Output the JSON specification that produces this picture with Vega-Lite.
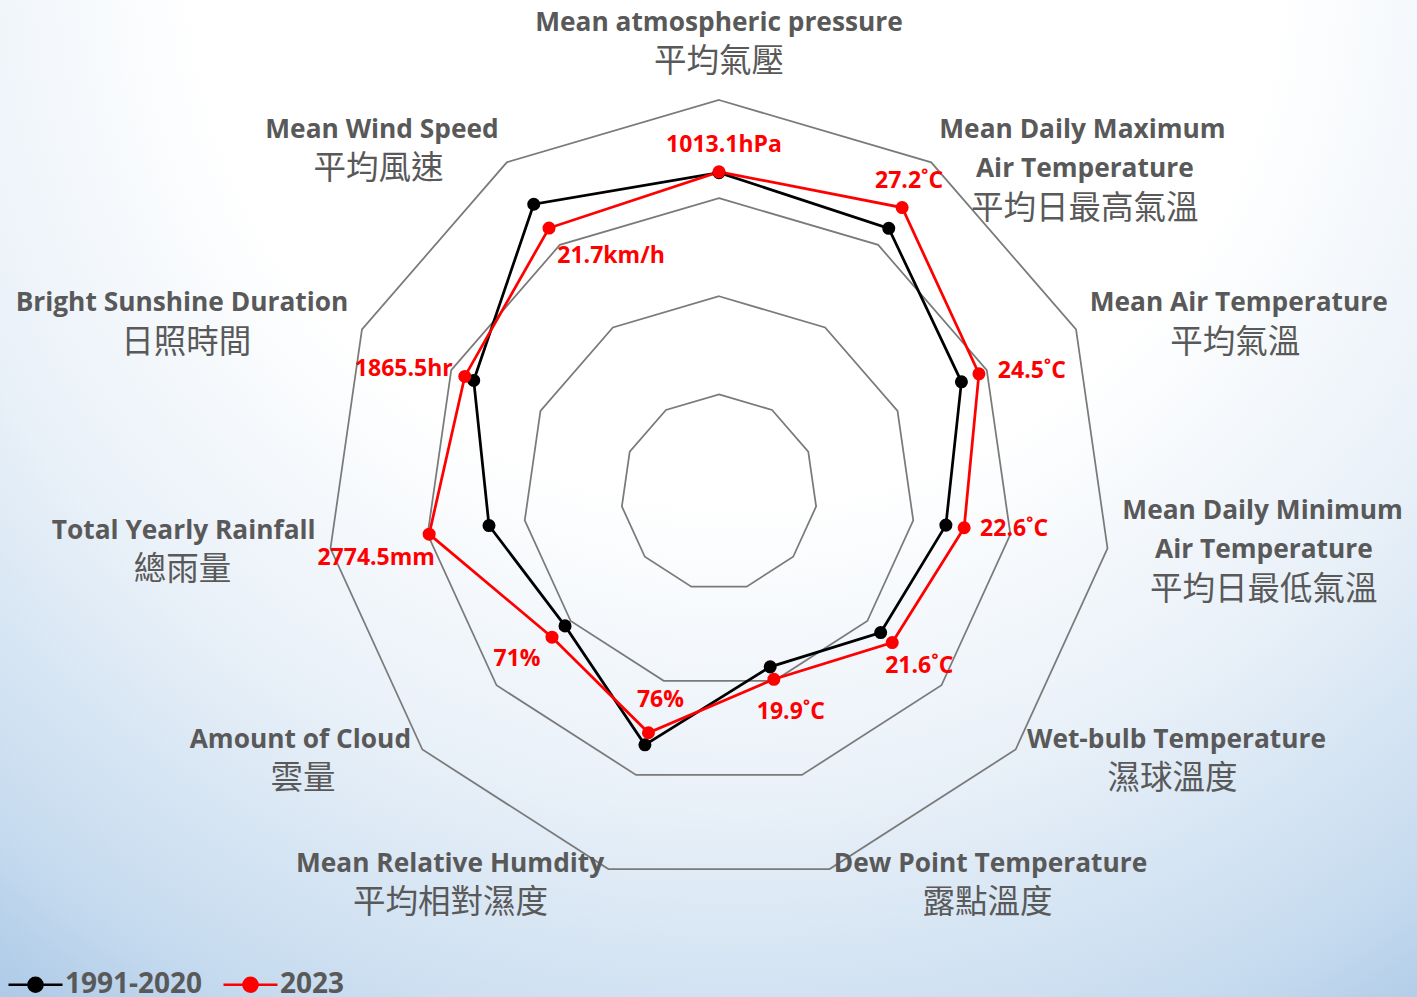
{
  "$schema": "https://vega.github.io/schema/vega-lite/v6.json",
  "width": 1417,
  "height": 997,
  "padding": 0,
  "autosize": {"type": "none"},
  "background": "#ffffff",
  "config": {
    "view": {
      "stroke": null,
      "fill": {
        "gradient": "radial",
        "x1": 0.52, "y1": 0.12, "r1": 0,
        "x2": 0.52, "y2": 0.12, "r2": 1.0,
        "stops": [
          {"offset": 0, "color": "#ffffff"},
          {"offset": 0.38, "color": "#ffffff"},
          {"offset": 0.6, "color": "#e8f0f8"},
          {"offset": 0.8, "color": "#c6dbef"},
          {"offset": 1, "color": "#93b8de"}
        ]
      }
    }
  },
  "datasets": {
    "rings": [
      {"ring": 1, "k": 0}, {"ring": 1, "k": 1}, {"ring": 1, "k": 2}, {"ring": 1, "k": 3}, {"ring": 1, "k": 4}, {"ring": 1, "k": 5}, {"ring": 1, "k": 6}, {"ring": 1, "k": 7}, {"ring": 1, "k": 8}, {"ring": 1, "k": 9}, {"ring": 1, "k": 10},
      {"ring": 2, "k": 0}, {"ring": 2, "k": 1}, {"ring": 2, "k": 2}, {"ring": 2, "k": 3}, {"ring": 2, "k": 4}, {"ring": 2, "k": 5}, {"ring": 2, "k": 6}, {"ring": 2, "k": 7}, {"ring": 2, "k": 8}, {"ring": 2, "k": 9}, {"ring": 2, "k": 10},
      {"ring": 3, "k": 0}, {"ring": 3, "k": 1}, {"ring": 3, "k": 2}, {"ring": 3, "k": 3}, {"ring": 3, "k": 4}, {"ring": 3, "k": 5}, {"ring": 3, "k": 6}, {"ring": 3, "k": 7}, {"ring": 3, "k": 8}, {"ring": 3, "k": 9}, {"ring": 3, "k": 10},
      {"ring": 4, "k": 0}, {"ring": 4, "k": 1}, {"ring": 4, "k": 2}, {"ring": 4, "k": 3}, {"ring": 4, "k": 4}, {"ring": 4, "k": 5}, {"ring": 4, "k": 6}, {"ring": 4, "k": 7}, {"ring": 4, "k": 8}, {"ring": 4, "k": 9}, {"ring": 4, "k": 10}
    ],
    "axes": [
      {"k": 0, "en1": "Mean atmospheric pressure", "en2": "", "zh": "平均氣壓"},
      {"k": 1, "en1": "Mean Daily Maximum", "en2": "Air Temperature", "zh": "平均日最高氣溫"},
      {"k": 2, "en1": "Mean Air Temperature", "en2": "", "zh": "平均氣溫"},
      {"k": 3, "en1": "Mean Daily Minimum", "en2": "Air Temperature", "zh": "平均日最低氣溫"},
      {"k": 4, "en1": "Wet-bulb Temperature", "en2": "", "zh": "濕球溫度"},
      {"k": 5, "en1": "Dew Point Temperature", "en2": "", "zh": "露點溫度"},
      {"k": 6, "en1": "Mean Relative Humdity", "en2": "", "zh": "平均相對濕度"},
      {"k": 7, "en1": "Amount of Cloud", "en2": "", "zh": "雲量"},
      {"k": 8, "en1": "Total Yearly Rainfall", "en2": "", "zh": "總雨量"},
      {"k": 9, "en1": "Bright Sunshine Duration", "en2": "", "zh": "日照時間"},
      {"k": 10, "en1": "Mean Wind Speed", "en2": "", "zh": "平均風速"}
    ],
    "series": [
      {"series": "1991-2020", "k": 0, "r": 0.815, "label": ""},
      {"series": "1991-2020", "k": 1, "r": 0.800, "label": ""},
      {"series": "1991-2020", "k": 2, "r": 0.679, "label": ""},
      {"series": "1991-2020", "k": 3, "r": 0.584, "label": ""},
      {"series": "1991-2020", "k": 4, "r": 0.545, "label": ""},
      {"series": "1991-2020", "k": 5, "r": 0.463, "label": ""},
      {"series": "1991-2020", "k": 6, "r": 0.670, "label": ""},
      {"series": "1991-2020", "k": 7, "r": 0.519, "label": ""},
      {"series": "1991-2020", "k": 8, "r": 0.592, "label": ""},
      {"series": "1991-2020", "k": 9, "r": 0.687, "label": ""},
      {"series": "1991-2020", "k": 10, "r": 0.873, "label": ""},
      {"series": "2023", "k": 0, "r": 0.817, "label": "1013.1hPa"},
      {"series": "2023", "k": 1, "r": 0.863, "label": "27.2˚C"},
      {"series": "2023", "k": 2, "r": 0.728, "label": "24.5˚C"},
      {"series": "2023", "k": 3, "r": 0.631, "label": "22.6˚C"},
      {"series": "2023", "k": 4, "r": 0.584, "label": "21.6˚C"},
      {"series": "2023", "k": 5, "r": 0.496, "label": "19.9˚C"},
      {"series": "2023", "k": 6, "r": 0.638, "label": "76%"},
      {"series": "2023", "k": 7, "r": 0.563, "label": "71%"},
      {"series": "2023", "k": 8, "r": 0.746, "label": "2774.5mm"},
      {"series": "2023", "k": 9, "r": 0.712, "label": "1865.5hr"},
      {"series": "2023", "k": 10, "r": 0.801, "label": "21.7km/h"}
    ]
  },
  "encoding": {
    "x": {"field": "px", "type": "quantitative", "scale": {"domain": [-1.8318, 1.7783], "nice": false, "zero": false}, "axis": null},
    "y": {"field": "py", "type": "quantitative", "scale": {"domain": [-1.2854, 1.2548], "nice": false, "zero": false}, "axis": null}
  },
  "layer": [
    {
      "data": {"name": "rings"},
      "transform": [
        {"calculate": "datum.ring*0.25*sin(datum.k*2*PI/11)", "as": "px"},
        {"calculate": "datum.ring*0.25*cos(datum.k*2*PI/11)", "as": "py"}
      ],
      "mark": {"type": "line", "interpolate": "linear-closed", "color": "#7a7a7a", "strokeWidth": 1.75},
      "encoding": {
        "detail": {"field": "ring", "type": "nominal"},
        "order": {"field": "k", "type": "quantitative"}
      }
    },
    {
      "data": {"name": "series"},
      "transform": [
        {"calculate": "datum.r*sin(datum.k*2*PI/11)", "as": "px"},
        {"calculate": "datum.r*cos(datum.k*2*PI/11)", "as": "py"}
      ],
      "mark": {"type": "line", "interpolate": "linear-closed", "strokeWidth": 2.75},
      "encoding": {
        "color": {
          "field": "series", "type": "nominal",
          "scale": {"domain": ["1991-2020", "2023"], "range": ["#000000", "#ff0000"]},
          "legend": {
            "orient": "none", "legendX": 7, "legendY": 956, "direction": "horizontal", "title": null,
            "symbolType": "M-1,0H1M-0.26,0A0.26,0.26,0,1,0,0.26,0A0.26,0.26,0,1,0,-0.26,0Z",
            "symbolSize": 2916, "symbolStrokeWidth": 2.5,
            "labelFont": "Open Sans", "labelFontWeight": "bold", "labelFontSize": 28, "labelColor": "#595959",
            "labelOffset": 1, "columnPadding": 15, "padding": 0, "labelLimit": 400,
            "encode": {"symbols": {"update": {"fill": {"scale": "color", "field": "value"}, "stroke": {"scale": "color", "field": "value"}, "opacity": {"value": 1}}}}
          }
        },
        "order": {"field": "k", "type": "quantitative"}
      }
    },
    {
      "data": {"name": "series"},
      "transform": [
        {"calculate": "datum.r*sin(datum.k*2*PI/11)", "as": "px"},
        {"calculate": "datum.r*cos(datum.k*2*PI/11)", "as": "py"}
      ],
      "mark": {"type": "point", "filled": true, "size": 170, "opacity": 1},
      "encoding": {
        "color": {
          "field": "series", "type": "nominal",
          "scale": {"domain": ["1991-2020", "2023"], "range": ["#000000", "#ff0000"]},
          "legend": {
            "orient": "none", "legendX": 7, "legendY": 956, "direction": "horizontal", "title": null,
            "symbolType": "M-1,0H1M-0.26,0A0.26,0.26,0,1,0,0.26,0A0.26,0.26,0,1,0,-0.26,0Z",
            "symbolSize": 2916, "symbolStrokeWidth": 2.5,
            "labelFont": "Open Sans", "labelFontWeight": "bold", "labelFontSize": 28, "labelColor": "#595959",
            "labelOffset": 1, "columnPadding": 15, "padding": 0, "labelLimit": 400,
            "encode": {"symbols": {"update": {"fill": {"scale": "color", "field": "value"}, "stroke": {"scale": "color", "field": "value"}, "opacity": {"value": 1}}}}
          }
        }
      }
    },
    {
      "data": {"name": "series"},
      "transform": [
        {"filter": "datum.series == '2023'"},
        {"calculate": "datum.r*sin(datum.k*2*PI/11)", "as": "px"},
        {"calculate": "datum.r*cos(datum.k*2*PI/11)", "as": "py"}
      ],
      "mark": {
        "type": "text", "font": "Open Sans", "fontWeight": "bold", "fontSize": 23, "color": "#ff0000",
        "align": "center", "baseline": "middle",
        "dx": {"expr": "[5,7,53,50,27,17,12,-35,-53,-61,62][datum.k]"},
        "dy": {"expr": "[-27,-27,-3,1,23,33,-33,22,24,-7,28][datum.k]"}
      },
      "encoding": {"text": {"field": "label", "type": "nominal"}}
    },
    {
      "data": {"name": "axes"},
      "transform": [
        {"calculate": "sin(datum.k*2*PI/11)", "as": "s"},
        {"calculate": "cos(datum.k*2*PI/11)", "as": "c"},
        {"calculate": "datum.s > 0.1 ? 1 : (datum.s < -0.1 ? -1 : 0)", "as": "side"},
        {"calculate": "datum.en2 == '' ? 2 : 3", "as": "n"},
        {"calculate": "datum.c > 0 && datum.side != 0 ? (datum.n - 2)*0.05032 : 0", "as": "shift"},
        {"calculate": "1.0382*datum.s", "as": "px"},
        {"calculate": "datum.side == 0 ? 1.0382*datum.c + 0.0076 + (datum.n - 0.5)*0.10064 : 1.0382*datum.c - datum.shift + ((datum.n - 1)/2)*0.10064", "as": "py"}
      ],
      "mark": {
        "type": "text", "font": "Open Sans", "fontWeight": "bold", "fontSize": 26.3, "color": "#595959",
        "baseline": "middle",
        "align": {"expr": "datum.side > 0 ? 'left' : (datum.side < 0 ? 'right' : 'center')"}
      },
      "encoding": {"text": {"field": "en1", "type": "nominal"}}
    },
    {
      "data": {"name": "axes"},
      "transform": [
        {"filter": "datum.en2 != ''"},
        {"calculate": "sin(datum.k*2*PI/11)", "as": "s"},
        {"calculate": "cos(datum.k*2*PI/11)", "as": "c"},
        {"calculate": "datum.s > 0.1 ? 1 : (datum.s < -0.1 ? -1 : 0)", "as": "side"},
        {"calculate": "datum.en2 == '' ? 2 : 3", "as": "n"},
        {"calculate": "datum.c > 0 && datum.side != 0 ? (datum.n - 2)*0.05032 : 0", "as": "shift"},
        {"calculate": "16.5*length(datum.en1) - 8*(length(datum.en1) - length(replace(datum.en1, regexp('[ilrtfj. -]', 'g'), ''))) + 8.5*(length(datum.en1) - length(replace(datum.en1, regexp('[mMwW]', 'g'), '')))", "as": "wpx"},
        {"calculate": "1.0382*datum.s + datum.side*datum.wpx/785", "as": "px"},
        {"calculate": "datum.side == 0 ? 1.0382*datum.c + 0.0076 + (datum.n - 1.5)*0.10064 : 1.0382*datum.c - datum.shift - (1 - (datum.n - 1)/2)*0.10064", "as": "py"}
      ],
      "mark": {
        "type": "text", "font": "Open Sans", "fontWeight": "bold", "fontSize": 26.3, "color": "#595959",
        "baseline": "middle", "align": "center"
      },
      "encoding": {"text": {"field": "en2", "type": "nominal"}}
    },
    {
      "data": {"name": "axes"},
      "transform": [
        {"calculate": "sin(datum.k*2*PI/11)", "as": "s"},
        {"calculate": "cos(datum.k*2*PI/11)", "as": "c"},
        {"calculate": "datum.s > 0.1 ? 1 : (datum.s < -0.1 ? -1 : 0)", "as": "side"},
        {"calculate": "datum.en2 == '' ? 2 : 3", "as": "n"},
        {"calculate": "datum.c > 0 && datum.side != 0 ? (datum.n - 2)*0.05032 : 0", "as": "shift"},
        {"calculate": "16.5*length(datum.en1) - 8*(length(datum.en1) - length(replace(datum.en1, regexp('[ilrtfj. -]', 'g'), ''))) + 8.5*(length(datum.en1) - length(replace(datum.en1, regexp('[mMwW]', 'g'), '')))", "as": "wpx"},
        {"calculate": "1.0382*datum.s + datum.side*datum.wpx/785", "as": "px"},
        {"calculate": "datum.side == 0 ? 1.0382*datum.c + 0.0076 + 0.5*0.10064 : 1.0382*datum.c - datum.shift - ((datum.n - 1)/2)*0.10064", "as": "py"}
      ],
      "mark": {
        "type": "text", "font": "Noto Sans CJK TC", "fontSize": 32.5, "color": "#595959",
        "baseline": "middle", "align": "center"
      },
      "encoding": {"text": {"field": "zh", "type": "nominal"}}
    }
  ]
}
